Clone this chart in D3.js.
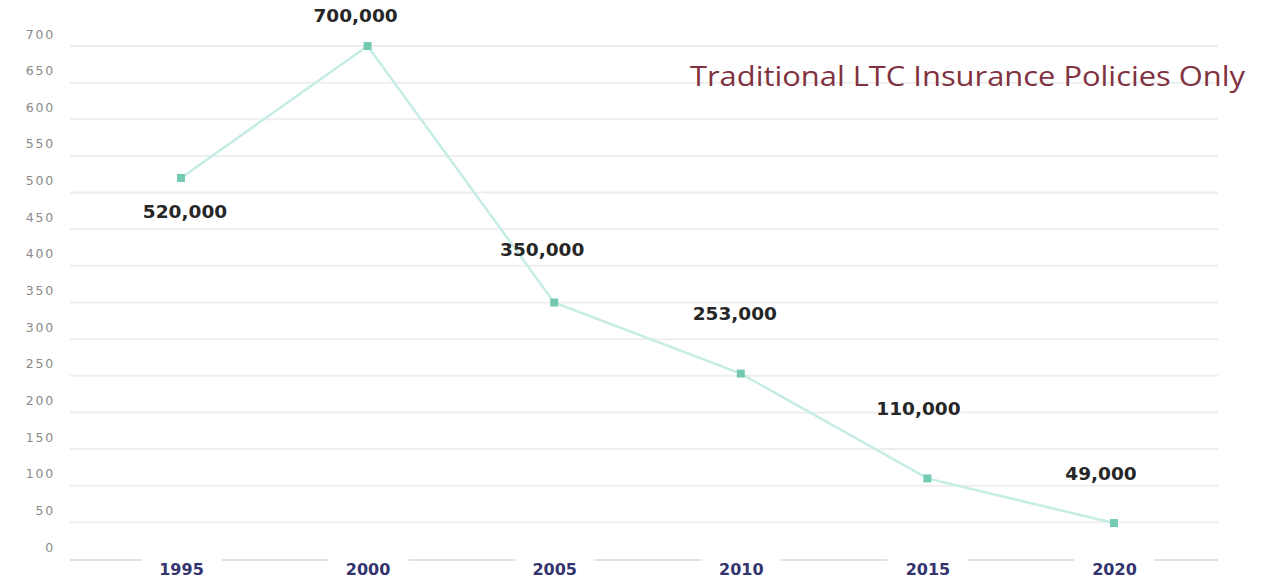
<!DOCTYPE html>
<html>
<head>
<meta charset="utf-8">
<script src="https://cdn.jsdelivr.net/npm/d3@7/dist/d3.min.js"></script>
<style>
  html, body { margin: 0; padding: 0; background: #ffffff; }
  svg { display: block; }
</style>
</head>
<body>
<svg id="chart" width="1265" height="583"></svg>
<script>
// Policies sold per year (thousands)
const years = ["1995", "2000", "2005", "2010", "2015", "2020"];
const policies = [520, 700, 350, 253, 110, 49];
const valueLabels = ["520,000", "700,000", "350,000", "253,000", "110,000", "49,000"];
const yTicks = [0, 50, 100, 150, 200, 250, 300, 350, 400, 450, 500, 550, 600, 650, 700];
const titleText = "Traditional LTC Insurance Policies Only";

const svg = d3.select("#chart");

const x = d3.scalePoint().domain(years).range([181, 1114]);
const y = d3.scaleLinear().domain([0, 700]).range([559, 46]);

// horizontal gridlines
svg.append("g")
  .selectAll("line")
  .data(yTicks.filter(d => d > 0))
  .join("line")
  .attr("x1", 70).attr("x2", 1218)
  .attr("y1", d => y(d)).attr("y2", d => y(d))
  .attr("stroke", "#eeeeee")
  .attr("stroke-width", 2);

// baseline
svg.append("line")
  .attr("x1", 70).attr("x2", 1218)
  .attr("y1", y(0) + 1).attr("y2", y(0) + 1)
  .attr("stroke", "#e2e2e2")
  .attr("stroke-width", 2);

// y axis labels (sit a little above their gridlines)
const yAxis = d3.axisLeft(y).tickValues(yTicks).tickSize(0).tickPadding(0);
const gy = svg.append("g").attr("transform", "translate(55,-12)").call(yAxis);
gy.select(".domain").remove();
gy.selectAll("text")
  .attr("font-family", "DejaVu Sans")
  .attr("font-size", 12.5)
  .attr("letter-spacing", 1.8)
  .attr("fill", "#8a8a8a");

// x axis labels with white backing that breaks the baseline
const xAxis = d3.axisBottom(x).tickSize(0).tickPadding(0);
const gx = svg.append("g").attr("transform", `translate(0,${y(0) + 5})`).call(xAxis);
gx.select(".domain").remove();
gx.selectAll(".tick").insert("rect", "text")
  .attr("x", -40).attr("y", -9).attr("width", 80).attr("height", 26)
  .attr("fill", "#ffffff");
gx.selectAll("text")
  .attr("font-family", "DejaVu Sans")
  .attr("font-weight", "bold")
  .attr("font-size", 16)
  .attr("fill", "#33336e");

// line
const data = years.map((yr, i) => ({ year: yr, value: policies[i], label: valueLabels[i] }));
svg.append("path")
  .datum(data)
  .attr("fill", "none")
  .attr("stroke", "#c6ece6")
  .attr("stroke-width", 2.5)
  .attr("d", d3.line().x(d => x(d.year)).y(d => y(d.value)));

// markers
svg.append("g")
  .selectAll("rect")
  .data(data)
  .join("rect")
  .attr("x", d => x(d.year) - 4)
  .attr("y", d => y(d.value) - 4)
  .attr("width", 8).attr("height", 8)
  .attr("fill", "#74c9b3");

// value labels
const labelShift = [[4, 34], [-12, -30], [-12, -53], [-6, -60], [-9, -70], [-13, -50]];
svg.append("g")
  .selectAll("text")
  .data(data)
  .join("text")
  .attr("x", (d, i) => x(d.year) + labelShift[i][0])
  .attr("y", (d, i) => y(d.value) + labelShift[i][1])
  .attr("dy", "0.35em")
  .attr("text-anchor", "middle")
  .attr("font-family", "DejaVu Sans")
  .attr("font-weight", "bold")
  .attr("font-size", 18.5)
  .attr("fill", "#262626")
  .text(d => d.label);

// title
svg.append("text")
  .attr("x", 690)
  .attr("y", 86)
  .attr("font-family", "Open Sans")
  .attr("font-size", 27)
  .attr("fill", "#80323f")
  .attr("textLength", 555)
  .attr("lengthAdjust", "spacingAndGlyphs")
  .text(titleText);
</script>
</body>
</html>
